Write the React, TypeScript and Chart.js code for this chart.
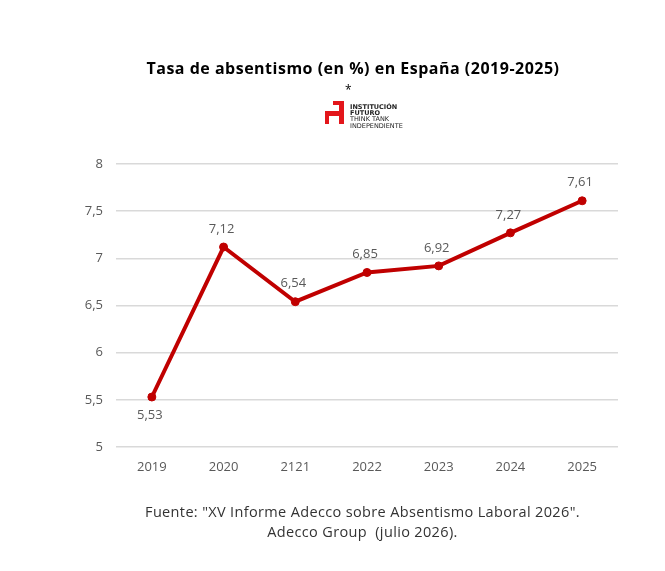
import React, { useEffect, useRef } from "react";
import { Chart, registerables } from "chart.js";

Chart.register(...registerables);

const categories: string[] = ["2019", "2020", "2121", "2022", "2023", "2024", "2025"];
const values: number[] = [5.53, 7.12, 6.54, 6.85, 6.92, 7.27, 7.61];
const valueLabels: string[] = ["5,53", "7,12", "6,54", "6,85", "6,92", "7,27", "7,61"];
const labelBelow: boolean[] = [true, false, false, false, false, false, false];
const yTicks: number[] = [5, 5.5, 6, 6.5, 7, 7.5, 8];

const TITLE = "Tasa de absentismo (en %) en España (2019-2025)";
const FOOT1 = "Fuente: \"XV Informe Adecco sobre Absentismo Laboral 2026\".";
const FOOT2 = "Adecco Group  (julio 2026).";

const FONT = "'Open Sans', 'DejaVu Sans', sans-serif";
const RED = "#C00000";
const LOGO_RED = "#E3161B";

const fmt = (v: number) => String(v).replace(".", ",");

const dataLabelPlugin = {
  id: "dataLabels",
  afterDatasetsDraw(chart: any) {
    const ctx = chart.ctx;
    const meta = chart.getDatasetMeta(0);
    ctx.save();
    ctx.font = `13px ${FONT}`;
    ctx.fillStyle = "#595959";
    ctx.textAlign = "center";
    ctx.textBaseline = "middle";
    meta.data.forEach((pt: any, i: number) => {
      const dy = labelBelow[i] ? 18 : -18;
      ctx.fillText(valueLabels[i], pt.x - 2, pt.y + dy);
    });
    ctx.restore();
  },
};

function App() {
  const ref = useRef<HTMLCanvasElement | null>(null);
  useEffect(() => {
    if (!ref.current) return;
    const chart = new Chart(ref.current, {
      type: "line",
      data: {
        labels: categories,
        datasets: [
          {
            data: values,
            borderColor: RED,
            backgroundColor: RED,
            borderWidth: 4,
            pointRadius: 4,
            pointHoverRadius: 4,
            pointBorderWidth: 1,
            pointBackgroundColor: RED,
            pointBorderColor: RED,
            tension: 0,
          },
        ],
      },
      options: {
        animation: false,
        responsive: false,
        maintainAspectRatio: false,
        layout: { padding: { left: 68, right: 39, top: 156, bottom: 66 } },
        plugins: {
          legend: { display: false },
          tooltip: { enabled: false },
          title: { display: false },
        },
        scales: {
          x: {
            offset: true,
            grid: { display: false, drawTicks: false },
            border: { display: false },
            ticks: {
              color: "#595959",
              font: { family: FONT, size: 13 },
              padding: 12,
            },
            afterFit: (s: any) => {
              s.height = 50;
            },
          },
          y: {
            min: 5,
            max: 8,
            afterBuildTicks: (s: any) => {
              s.ticks = yTicks.map((v) => ({ value: v }));
            },
            grid: { color: "#D9D9D9", lineWidth: 1.5, drawTicks: false },
            border: { display: false },
            ticks: {
              color: "#595959",
              font: { family: FONT, size: 13 },
              padding: 13,
              callback: (v: any) => fmt(Number(v)),
            },
            afterFit: (s: any) => {
              s.width = 40;
            },
          },
        },
      },
      plugins: [dataLabelPlugin],
    });
    return () => chart.destroy();
  }, []);

  return (
    <div style={{ position: "relative", width: 649, height: 555, background: "#fff", fontFamily: FONT }}>
      <canvas ref={ref} width={649} height={555} style={{ position: "absolute", left: 0, top: 0 }} />
      <div
        style={{
          position: "absolute",
          left: 0,
          width: 690,
          top: 49,
          textAlign: "center",
          fontWeight: 700,
          fontSize: 16,
          letterSpacing: 0.5,
          color: "#000",
          whiteSpace: "nowrap",
        }}
      >
        {TITLE}
      </div>
      {/* logo */}
      <div style={{ position: "absolute", left: 337, top: 76, fontSize: 12, color: "#000", lineHeight: "12px" }}>*</div>
      <div style={{ position: "absolute", left: 331, top: 93, width: 5, height: 23, background: LOGO_RED }} />
      <div style={{ position: "absolute", left: 325, top: 93, width: 11, height: 4, background: LOGO_RED }} />
      <div style={{ position: "absolute", left: 317, top: 103, width: 19, height: 5, background: LOGO_RED }} />
      <div style={{ position: "absolute", left: 317, top: 103, width: 4, height: 13, background: LOGO_RED }} />
      <div
        style={{
          position: "absolute",
          left: 342,
          top: 96,
          fontSize: 6.5,
          lineHeight: "6.2px",
          color: "#222",
          fontFamily: "'DejaVu Sans', sans-serif",
        }}
      >
        <div style={{ fontWeight: 700 }}>INSTITUCIÓN</div>
        <div style={{ fontWeight: 700 }}>FUTURO</div>
        <div>THINK TANK</div>
        <div>INDEPENDIENTE</div>
      </div>
      <div
        style={{
          position: "absolute",
          left: 0,
          width: 709,
          top: 494,
          textAlign: "center",
          fontSize: 14.5,
          letterSpacing: 0.35,
          lineHeight: "20px",
          color: "#333",
          whiteSpace: "pre",
        }}
      >
        <div>{FOOT1}</div>
        <div>{FOOT2}</div>
      </div>
    </div>
  );
}

export default App;
